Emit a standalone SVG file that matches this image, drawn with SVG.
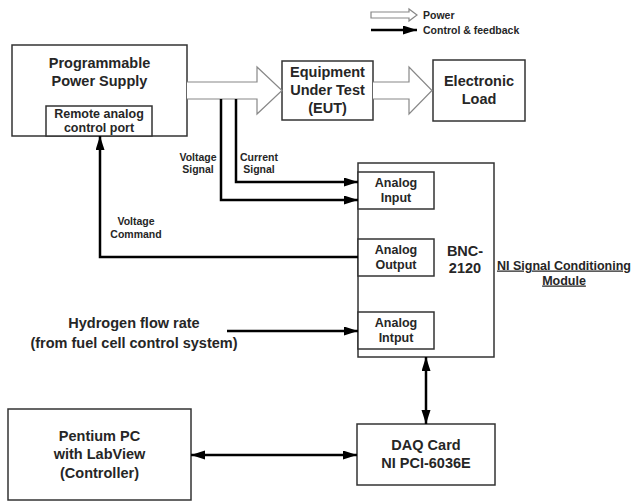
<svg xmlns="http://www.w3.org/2000/svg" width="632" height="501" viewBox="0 0 632 501">
<style>
text{font-family:"Liberation Sans",Arial,sans-serif;font-weight:bold;fill:#262626;text-anchor:middle}
.box{fill:#fff;stroke:#333;stroke-width:1.5}
.pw{fill:#fff;stroke:#888;stroke-width:1.2}
.ctl{fill:none;stroke:#000;stroke-width:2.5}
.big{font-size:14.5px}
.mid{font-size:12.5px}
.sm{font-size:10.5px}
.u{text-decoration:underline}
</style>
<defs>
<marker id="ah" markerUnits="userSpaceOnUse" markerWidth="15" markerHeight="10" refX="14" refY="4.5" orient="auto-start-reverse">
<path d="M0,0 L14,4.5 L0,9 z" fill="#000"/>
</marker>
</defs>
<rect width="632" height="501" fill="#fff"/>

<g id="legend">
<path class="pw" d="M371,12 H409 V9 L417,15 L409,21 V18 H371 Z"/>
<line x1="371" y1="30" x2="417" y2="30" class="ctl" marker-end="url(#ah)"/>
<text x="423" y="18.5" class="sm" style="text-anchor:start">Power</text>
<text x="423" y="33.5" class="sm" style="text-anchor:start">Control &amp; feedback</text>
</g>

<g id="power-supply">
<rect class="box" x="12" y="45" width="175" height="91"/>
<text x="99.5" y="68" class="big">Programmable</text>
<text x="99.5" y="86" class="big">Power Supply</text>
</g>
<g id="remote-port">
<rect class="box" x="46" y="106" width="106" height="30"/>
<text x="99" y="117.5" class="mid">Remote analog</text>
<text x="99" y="132" class="mid">control port</text>
</g>

<g id="eut">
<rect class="box" x="282" y="61" width="91" height="59"/>
<text x="327.5" y="77" class="big">Equipment</text>
<text x="327.5" y="95" class="big">Under Test</text>
<text x="327.5" y="113" class="big">(EUT)</text>
</g>

<g id="electronic-load">
<rect class="box" x="433" y="60" width="92" height="61"/>
<text x="479" y="86" class="big">Electronic</text>
<text x="479" y="104" class="big">Load</text>
</g>

<g id="bnc">
<rect class="box" x="358" y="163" width="136" height="194"/>
<text x="465" y="256" class="big">BNC-</text>
<text x="465" y="273" class="big">2120</text>
</g>
<g id="analog-input">
<rect class="box" x="358" y="172" width="76" height="37"/>
<text x="396" y="186.5" class="mid">Analog</text>
<text x="396" y="201.5" class="mid">Input</text>
</g>
<g id="analog-output">
<rect class="box" x="358" y="239" width="76" height="37"/>
<text x="396" y="253.5" class="mid">Analog</text>
<text x="396" y="268.5" class="mid">Output</text>
</g>
<g id="analog-intput">
<rect class="box" x="358" y="312" width="76" height="37"/>
<text x="396" y="326.5" class="mid">Analog</text>
<text x="396" y="341.5" class="mid">Intput</text>
</g>
<g id="ni-label">
<text x="564" y="269.5" class="mid u">NI Signal Conditioning</text>
<text x="564" y="284.5" class="mid u">Module</text>
</g>

<g id="hydrogen">
<text x="134" y="328" class="big">Hydrogen flow rate</text>
<text x="134" y="348" class="big">(from fuel cell control system)</text>
</g>

<g id="pc">
<rect class="box" x="8" y="409" width="183" height="91"/>
<text x="99.5" y="441" class="big">Pentium PC</text>
<text x="99.5" y="459" class="big">with LabView</text>
<text x="99.5" y="478" class="big">(Controller)</text>
</g>

<g id="daq">
<rect class="box" x="357" y="424" width="138" height="61"/>
<text x="426" y="450" class="big">DAQ Card</text>
<text x="426" y="468" class="big">NI PCI-6036E</text>
</g>

<g id="connectors">
<path class="pw" d="M187,82 H257 V67 L282,90.5 L257,114 V99 H187"/>
<path class="pw" d="M373,82 H409 V67 L432,90.5 L409,114 V99 H373"/>
<path class="ctl" d="M236,99 V182 H358" marker-end="url(#ah)"/>
<path class="ctl" d="M221,99 V200 H358" marker-end="url(#ah)"/>
<path class="ctl" d="M358,257 H100 V136" marker-end="url(#ah)"/>
<path class="ctl" d="M227,331 H358" marker-end="url(#ah)"/>
<path class="ctl" d="M426,357 V424" marker-start="url(#ah)" marker-end="url(#ah)"/>
<path class="ctl" d="M191,455 H357" marker-start="url(#ah)" marker-end="url(#ah)"/>
<text x="198" y="160.5" class="sm">Voltage</text>
<text x="198" y="173" class="sm">Signal</text>
<text x="259" y="160.5" class="sm">Current</text>
<text x="259" y="173" class="sm">Signal</text>
<text x="136" y="225" class="sm">Voltage</text>
<text x="136" y="237.5" class="sm">Command</text>
</g>
</svg>
